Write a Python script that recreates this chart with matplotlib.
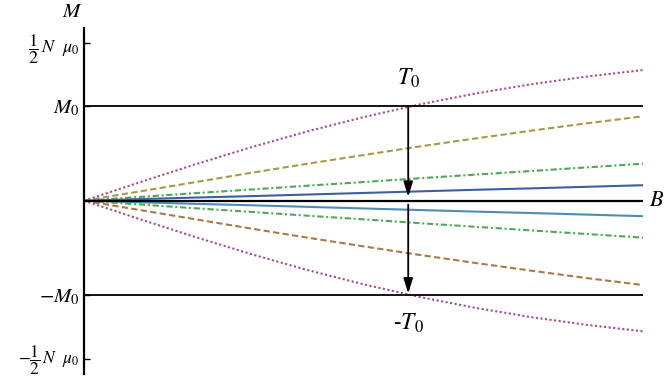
import matplotlib
matplotlib.use("Agg")
import matplotlib.pyplot as plt
import matplotlib.transforms as mtransforms

plt.rcParams['mathtext.fontset'] = 'stix'
plt.rcParams['font.family'] = ['STIXGeneral', 'Liberation Serif', 'DejaVu Serif']

# B values (fraction of plotted field range)
B = [0.0, 0.1, 0.2, 0.3, 0.4, 0.5, 0.6, 0.7, 0.8, 0.9, 1.0]
# Magnetization in units of (1/2) N mu0
M_T0 = [0.0, 0.117, 0.231, 0.339, 0.439, 0.529, 0.609, 0.678, 0.737, 0.786, 0.827]
M_2T0 = [0.0, 0.059, 0.118, 0.177, 0.234, 0.289, 0.343, 0.394, 0.443, 0.490, 0.534]
M_5T0 = [0.0, 0.024, 0.048, 0.071, 0.095, 0.118, 0.142, 0.165, 0.188, 0.211, 0.234]
M_12T0 = [0.0, 0.010, 0.020, 0.029, 0.039, 0.049, 0.059, 0.069, 0.078, 0.088, 0.098]
M_neg12T0 = [-v for v in M_12T0]
M_neg5T0 = [-v for v in M_5T0]
M_neg2T0 = [-v for v in M_2T0]
M_negT0 = [-v for v in M_T0]

M0 = 0.597
B_arrow = 0.58

fig = plt.figure(figsize=(6.65, 3.76), dpi=100)
ax = fig.add_axes([84/665, 2/376, 559/665, 346/376])

lw = 1.5
purple = '#a24a98'
olive = '#a89a45'
green = '#4fa855'
blue = '#3f5ea0'
teal = '#4d8db0'
brown = '#a87a48'
ax.plot(B, M_T0, color=purple, lw=lw, ls=(0, (1, 1.2)))
ax.plot(B, M_2T0, color=olive, lw=lw, ls=(0, (3, 1.6)))
ax.plot(B, M_5T0, color=green, lw=lw, ls=(0, (3, 1.3, 1, 1.3)))
ax.plot(B, M_12T0, color=blue, lw=lw, ls='-')
ax.plot(B, M_neg12T0, color=teal, lw=lw, ls='-')
ax.plot(B, M_neg5T0, color=green, lw=lw, ls=(0, (3, 1.3, 1, 1.3)))
ax.plot(B, M_neg2T0, color=brown, lw=lw, ls=(0, (3, 1.6)))
ax.plot(B, M_negT0, color=purple, lw=lw, ls=(0, (1, 1.2)))

ax.axhline(0, color='black', lw=1.6, zorder=5)
ax.axhline(M0, color='black', lw=1.3, zorder=5)
ax.axhline(-M0, color='black', lw=1.3, zorder=5)

ax.annotate('', xy=(B_arrow, 0.025), xytext=(B_arrow, M0),
            arrowprops=dict(arrowstyle='-|>,head_length=0.9,head_width=0.28',
                            color='black', lw=1.3, shrinkA=0, shrinkB=0), zorder=6)
ax.annotate('', xy=(B_arrow, -M0 + 0.01), xytext=(B_arrow, -0.025),
            arrowprops=dict(arrowstyle='-|>,head_length=0.9,head_width=0.28',
                            color='black', lw=1.3, shrinkA=0, shrinkB=0), zorder=6)

ax.text(B_arrow, 0.70, r'$T_0$', fontsize=17, ha='center', va='bottom')
ax.text(B_arrow, -0.70, r'-$T_0$', fontsize=17, ha='center', va='top')

ax.set_xlim(0, 1)
ax.set_ylim(-(374 - 200.7) / 158, (200.7 - 28) / 158)

for s in ['top', 'right', 'bottom']:
    ax.spines[s].set_visible(False)
ax.spines['left'].set_linewidth(1.6)
ax.set_xticks([])
ax.set_yticks([-1, -M0, M0, 1])
labels = ax.set_yticklabels([r'$-\dfrac{1}{2}\,N\ \ \mu_0$', r'$-M_0$', r'$M_0$',
                             r'$\dfrac{1}{2}\,N\ \ \mu_0$'])
for lab, size in zip(labels, [12.5, 15, 15, 13]):
    lab.set_fontsize(size)
ax.tick_params(axis='y', direction='in', length=4, width=1, pad=3)
labels[0].set_transform(labels[0].get_transform() +
                        mtransforms.ScaledTranslation(0, 5/100, fig.dpi_scale_trans))

fig.text(72/665, 1 - 12/376, r'$M$', fontsize=15, ha='center', va='center')
fig.text(657/665, 1 - 201/376, r'$B$', fontsize=16, ha='center', va='center')

fig.savefig('out.png', dpi=100)
